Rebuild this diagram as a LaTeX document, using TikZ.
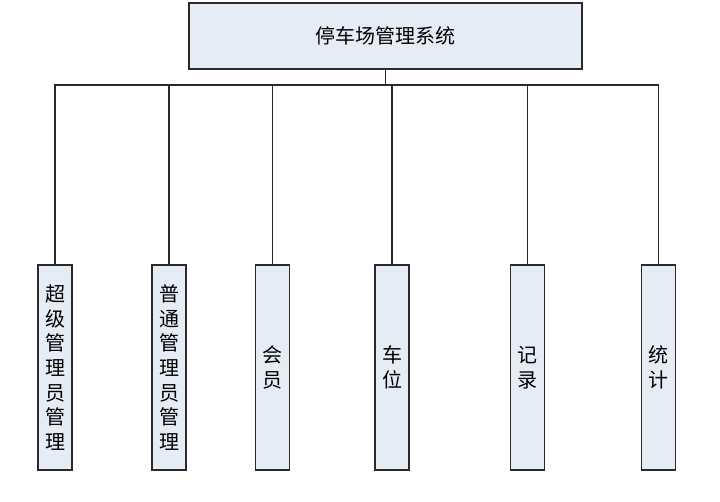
\documentclass[tikz,border=0pt]{standalone}
\usepackage{fontspec}
\setmainfont{Noto Sans CJK SC}
\definecolor{boxfill}{HTML}{E6ECF6}
\definecolor{boxline}{HTML}{2A2A2A}
\begin{document}
\begin{tikzpicture}[x=1pt,y=-1pt,font=\fontsize{20}{24.6}\selectfont]
        \tikzset{top/.style={draw=boxline, line width=1.3pt, fill=boxfill, minimum width=393pt, minimum height=66pt, inner sep=0pt},
                 sub/.style={draw=boxline, line width=1.3pt, fill=boxfill, minimum width=34pt, minimum height=205pt, inner sep=0pt, align=center},
                 link/.style={draw=boxline, line width=1.3pt}}
        \useasboundingbox (0,0) rectangle (720,502);
        \node[top] (sys) at (385.5,36) {停车场管理系统};
        \coordinate (bus) at (385.5,85);
        \node[sub] (chaoji) at (55,367.5) {超\\级\\管\\理\\员\\管\\理};
        \node[sub] (putong) at (169,367.5) {普\\通\\管\\理\\员\\管\\理};
        \node[sub] (huiyuan) at (272.5,367.5) {会\\员};
        \node[sub] (chewei) at (392,367.5) {车\\位};
        \node[sub] (jilu) at (527.5,367.5) {记\\录};
        \node[sub] (tongji) at (658.5,367.5) {统\\计};
        \foreach \c in {chaoji,putong,huiyuan,chewei,jilu,tongji}
            \draw[link] (sys.south) |- (\c.north |- bus) -- (\c.north);
    \end{tikzpicture}
\end{document}
